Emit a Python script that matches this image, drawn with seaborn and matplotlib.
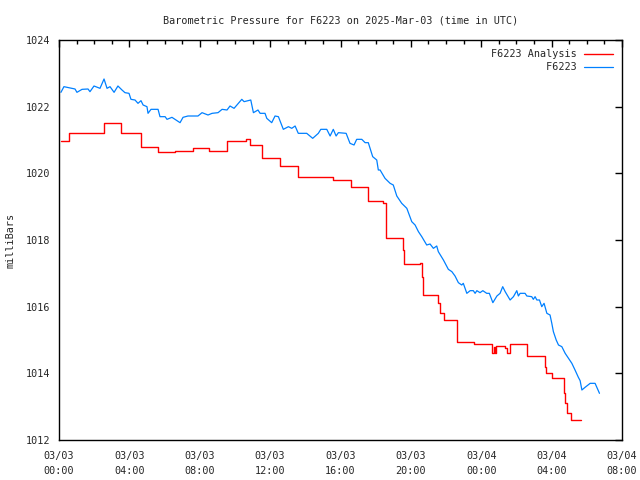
import matplotlib
matplotlib.use('Agg')
import matplotlib.pyplot as plt
import matplotlib.dates as mdates
import matplotlib.ticker as mticker
import pandas as pd
import seaborn as sns

# hours after 2025-03-03 00:00 UTC, pressure in millibars
obs_hours = [0.11, 0.28, 0.91, 1.02, 1.31, 1.65, 1.76, 1.99, 2.33, 2.56, 2.73, 2.90, 3.13, 3.35,
             3.58, 3.75, 3.98, 4.09, 4.32, 4.49, 4.66, 4.78, 5.00, 5.06, 5.23, 5.63, 5.74, 6.03,
             6.14, 6.42, 6.65, 6.88, 7.05, 7.33, 7.90, 8.13, 8.47, 8.70, 9.04, 9.27, 9.55, 9.72,
             9.95, 10.39, 10.52, 10.90, 11.05, 11.31, 11.43, 11.71, 11.81, 12.09, 12.28, 12.47,
             12.75, 13.04, 13.23, 13.42, 13.60, 14.08, 14.42, 14.74, 14.88, 15.22, 15.41, 15.59,
             15.75, 15.88, 16.32, 16.54, 16.77, 16.92, 17.21, 17.40, 17.58, 17.68, 17.83, 18.06,
             18.15, 18.25, 18.53, 18.82, 19.00, 19.20, 19.48, 19.77, 20.05, 20.24, 20.43, 20.62,
             20.90, 21.09, 21.28, 21.47, 21.56, 21.85, 22.13, 22.33, 22.51, 22.70, 22.89, 22.98,
             23.18, 23.37, 23.55, 23.65, 23.75, 23.93, 24.09, 24.31, 24.46, 24.66, 24.89, 25.07,
             25.22, 25.36, 25.64, 25.83, 26.02, 26.11, 26.21, 26.49, 26.59, 26.87, 26.96, 27.06,
             27.16, 27.31, 27.44, 27.57, 27.73, 27.91, 28.01, 28.10, 28.26, 28.39, 28.58, 28.77,
             28.96, 29.15, 29.33, 29.52, 29.62, 29.72, 29.90, 30.19, 30.47, 30.72]
obs_mb = [1022.43, 1022.60, 1022.53, 1022.43, 1022.52, 1022.53, 1022.45, 1022.62, 1022.55, 1022.83,
          1022.55, 1022.60, 1022.43, 1022.62, 1022.50, 1022.42, 1022.40, 1022.22, 1022.20, 1022.10,
          1022.18, 1022.05, 1022.00, 1021.80, 1021.92, 1021.92, 1021.70, 1021.70, 1021.62, 1021.68,
          1021.60, 1021.52, 1021.68, 1021.72, 1021.72, 1021.82, 1021.75, 1021.80, 1021.82, 1021.92,
          1021.90, 1022.02, 1021.95, 1022.22, 1022.15, 1022.20, 1021.82, 1021.90, 1021.80, 1021.80,
          1021.65, 1021.52, 1021.72, 1021.70, 1021.32, 1021.40, 1021.35, 1021.42, 1021.20, 1021.20,
          1021.05, 1021.20, 1021.32, 1021.32, 1021.12, 1021.32, 1021.12, 1021.22, 1021.20, 1020.90,
          1020.85, 1021.02, 1021.02, 1020.92, 1020.92, 1020.75, 1020.50, 1020.40, 1020.10, 1020.10,
          1019.85, 1019.70, 1019.65, 1019.32, 1019.10, 1018.95, 1018.55, 1018.45, 1018.25, 1018.10,
          1017.85, 1017.88, 1017.75, 1017.82, 1017.65, 1017.40, 1017.12, 1017.05, 1016.92, 1016.72,
          1016.65, 1016.70, 1016.40, 1016.48, 1016.48, 1016.40, 1016.48, 1016.42, 1016.48, 1016.40,
          1016.40, 1016.12, 1016.32, 1016.40, 1016.60, 1016.45, 1016.20, 1016.30, 1016.48, 1016.32,
          1016.40, 1016.40, 1016.32, 1016.30, 1016.22, 1016.30, 1016.20, 1016.20, 1016.00, 1016.10,
          1015.80, 1015.75, 1015.50, 1015.25, 1015.00, 1014.85, 1014.80, 1014.60, 1014.45, 1014.30,
          1014.10, 1013.88, 1013.78, 1013.50, 1013.58, 1013.70, 1013.70, 1013.40]

ana_hours = [0.11, 0.57, 2.56, 3.52, 4.66, 5.63, 6.59, 7.62, 8.53, 9.55, 10.63, 10.86, 11.54,
             12.56, 13.59, 15.58, 16.60, 17.57, 18.42, 18.59, 19.56, 19.61, 20.52, 20.64, 20.69,
             21.55, 21.66, 21.89, 22.61, 23.59, 24.62, 24.70, 24.78, 24.86, 25.36, 25.49, 25.64,
             26.61, 27.63, 27.69, 28.01, 28.71, 28.77, 28.86, 29.09, 29.66]
ana_mb = [1020.97, 1021.22, 1021.52, 1021.22, 1020.78, 1020.65, 1020.68, 1020.75, 1020.68, 1020.97,
          1021.02, 1020.85, 1020.45, 1020.22, 1019.88, 1019.80, 1019.60, 1019.18, 1019.10, 1018.05,
          1017.70, 1017.28, 1017.32, 1016.90, 1016.35, 1016.10, 1015.80, 1015.60, 1014.95, 1014.88,
          1014.62, 1014.80, 1014.62, 1014.82, 1014.75, 1014.62, 1014.88, 1014.52, 1014.20, 1014.02,
          1013.85, 1013.40, 1013.10, 1012.80, 1012.60, 1012.60]

start = pd.Timestamp('2025-03-03 00:00')
obs = pd.DataFrame({'time': start + pd.to_timedelta(obs_hours, unit='h'), 'mb': obs_mb})
ana = pd.DataFrame({'time': start + pd.to_timedelta(ana_hours, unit='h'), 'mb': ana_mb})

sns.set_style('white')
plt.rcParams['font.family'] = ['DejaVu Sans Mono']
plt.rcParams['font.size'] = 7.3

fig = plt.figure(figsize=(6.4, 4.8), dpi=100)
ax = fig.add_axes([59 / 640, 40 / 480, 563 / 640, 400 / 480])

# monospace font: pad the short label so both entries end at the same column
sns.lineplot(data=ana, x='time', y='mb', ax=ax, color='#ff0000', linewidth=1,
             drawstyle='steps-post', label='F6223 Analysis', estimator=None, sort=False)
sns.lineplot(data=obs, x='time', y='mb', ax=ax, color='#0080ff', linewidth=0.9,
             label='F6223'.rjust(14), estimator=None, sort=False)

ax.set_xlim(start, start + pd.Timedelta(hours=32))
ax.set_ylim(1012, 1024)
ax.yaxis.set_major_locator(mticker.MultipleLocator(2))
ax.yaxis.set_major_formatter(mticker.FormatStrFormatter('%d'))
ax.xaxis.set_major_locator(mdates.HourLocator(byhour=range(0, 24, 4)))
ax.xaxis.set_minor_locator(mdates.HourLocator())
ax.xaxis.set_major_formatter(mdates.DateFormatter('%m/%d\n%H:%M'))

ax.tick_params(which='both', direction='in', top=True, right=True, color='black', labelsize=7.3)
ax.tick_params(which='major', length=5, width=1)
ax.tick_params(which='minor', length=3, width=1)
ax.tick_params(axis='x', pad=8)
ax.tick_params(axis='y', pad=6)
for lbl in ax.get_xticklabels():
    lbl.set_linespacing(1.6)
for s in ax.spines.values():
    s.set_visible(True)
    s.set_color('black')
    s.set_linewidth(1)

ax.set_xlabel('')
ax.set_ylabel('milliBars', fontsize=7.3)
ax.yaxis.set_label_coords(-0.078, 0.5)
ax.set_title('Barometric Pressure for F6223 on 2025-Mar-03 (time in UTC)', fontsize=7.3, pad=12)

ax.legend(loc='upper right', frameon=False, markerfirst=False, fontsize=7.3,
          handlelength=2.8, handletextpad=0.8, labelspacing=0.3,
          borderaxespad=0.9, borderpad=0.0)

fig.savefig('out.png', dpi=100, facecolor='white')
